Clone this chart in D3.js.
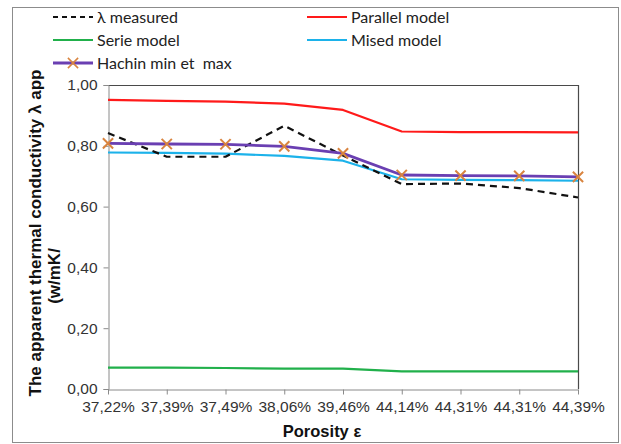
<!DOCTYPE html>
<html>
<head>
<meta charset="utf-8">
<script src="https://cdn.jsdelivr.net/npm/d3@7"></script>
<style>
  html, body { margin: 0; padding: 0; background: #fff; }
  svg { display: block; }
</style>
</head>
<body>
<svg id="chart" width="621" height="444"></svg>
<script>
// Porosity categories (x axis)
const porosity = ["37,22%", "37,39%", "37,49%", "38,06%", "39,46%", "44,14%", "44,31%", "44,31%", "44,39%"];

// Apparent thermal conductivity (W/mK) per series
const measured = [0.842, 0.764, 0.764, 0.866, 0.768, 0.674, 0.676, 0.661, 0.630];
const parallelModel = [0.951, 0.948, 0.945, 0.939, 0.918, 0.847, 0.845, 0.845, 0.844];
const serieModel = [0.070, 0.070, 0.069, 0.067, 0.067, 0.058, 0.058, 0.058, 0.058];
const misedModel = [0.778, 0.777, 0.774, 0.767, 0.751, 0.690, 0.688, 0.687, 0.685];
const hachin = [0.808, 0.806, 0.805, 0.798, 0.775, 0.704, 0.702, 0.701, 0.698];

const yTicks = [0, 0.2, 0.4, 0.6, 0.8, 1.0];

const svg = d3.select("#chart");

// outer frame
svg.append("rect")
  .attr("x", 12.5).attr("y", 7.5)
  .attr("width", 606).attr("height", 435)
  .attr("fill", "none").attr("stroke", "#8c8c8c").attr("stroke-width", 1);

const plot = { left: 108, right: 578, top: 85, bottom: 389 };

const x = d3.scalePoint()
  .domain(d3.range(porosity.length))
  .range([plot.left, plot.right]);

const y = d3.scaleLinear()
  .domain([0, 1])
  .range([plot.bottom, plot.top]);

// plot-area border (top and right)
svg.append("path")
  .attr("d", `M${plot.left},${plot.top + 0.5}H${plot.right + 0.5}V${plot.bottom}`)
  .attr("fill", "none").attr("stroke", "#4a4a4a").attr("stroke-width", 1.2);

const axisFont = "'Liberation Sans', Arial, sans-serif";
const fmt = d => d3.format(".2f")(d).replace(".", ",");

// y axis
const yAxis = svg.append("g")
  .attr("transform", `translate(${plot.left + 0.5},0)`)
  .call(d3.axisLeft(y).tickValues(yTicks).tickFormat(fmt).tickSize(5).tickPadding(6));
yAxis.attr("font-family", axisFont).attr("font-size", 15.5);
yAxis.select(".domain").attr("stroke", "#8a8a8a");
yAxis.selectAll(".tick line").attr("stroke", "#8a8a8a");
yAxis.selectAll(".tick text").attr("fill", "#333");

// x axis
const xAxis = svg.append("g")
  .attr("transform", `translate(0,${plot.bottom + 0.5})`)
  .call(d3.axisBottom(x).tickFormat(i => porosity[i]).tickSize(5).tickPadding(6).tickSizeOuter(0));
xAxis.attr("font-family", axisFont).attr("font-size", 15.5);
xAxis.select(".domain").attr("stroke", "#8a8a8a");
xAxis.selectAll(".tick line").attr("stroke", "#8a8a8a");
xAxis.selectAll(".tick text").attr("fill", "#333");

// series lines
const line = d3.line().x((d, i) => x(i)).y(d => y(d));

const series = [
  { name: "Serie model", data: serieModel, color: "#21b04b", width: 2.2 },
  { name: "Parallel model", data: parallelModel, color: "#ff1a1a", width: 2.2 },
  { name: "Mised model", data: misedModel, color: "#1cb2ea", width: 2.2 },
  { name: "λ measured", data: measured, color: "#111", width: 2.2, dash: "7,5" },
  { name: "Hachin min et  max", data: hachin, color: "#6a3fb2", width: 2.8 }
];

series.forEach(s => {
  svg.append("path")
    .datum(s.data)
    .attr("d", line)
    .attr("fill", "none")
    .attr("stroke", s.color)
    .attr("stroke-width", s.width)
    .attr("stroke-dasharray", s.dash || null)
    .attr("stroke-linejoin", "round");
});

// Hachin markers (x shapes)
const markerColor = "#d9843f";
const cross = d3.symbol().type(d3.symbolX).size(70);
svg.append("g").selectAll("path")
  .data(hachin)
  .join("path")
  .attr("d", cross)
  .attr("transform", (d, i) => `translate(${x(i)},${y(d)})`)
  .attr("fill", "none")
  .attr("stroke", markerColor)
  .attr("stroke-width", 2);

// axis titles
const titleFont = "'Liberation Sans', Arial, sans-serif";
svg.append("text")
  .attr("transform", "translate(41,233) rotate(-90)")
  .attr("text-anchor", "middle")
  .attr("font-family", titleFont).attr("font-weight", "bold").attr("font-size", 17)
  .attr("fill", "#111")
  .text("The apparent thermal conductivity λ app");
svg.append("text")
  .attr("transform", "translate(60,276) rotate(-90)")
  .attr("text-anchor", "middle")
  .attr("font-family", titleFont).attr("font-weight", "bold").attr("font-size", 17)
  .attr("fill", "#111")
  .text("(w/mK/");
svg.append("text")
  .attr("x", 322).attr("y", 437)
  .attr("text-anchor", "middle")
  .attr("font-family", titleFont).attr("font-weight", "bold").attr("font-size", 16.5)
  .attr("fill", "#111")
  .text("Porosity ε");

// legend
const legendItems = [
  { s: series[3], col: 0, row: 0 },
  { s: series[1], col: 1, row: 0 },
  { s: series[0], col: 0, row: 1 },
  { s: series[2], col: 1, row: 1 },
  { s: series[4], col: 0, row: 2, marker: true }
];
const colX = [53, 307];
const rowY = [17, 40, 63];
const legend = svg.append("g");
legendItems.forEach(it => {
  const g = legend.append("g").attr("transform", `translate(${colX[it.col]},${rowY[it.row]})`);
  g.append("line")
    .attr("x1", 0).attr("x2", 40).attr("y1", 0).attr("y2", 0)
    .attr("stroke", it.s.color).attr("stroke-width", it.s.width)
    .attr("stroke-dasharray", it.s.dash ? "5,4" : null);
  if (it.marker) {
    g.append("path").attr("d", cross).attr("transform", "translate(20,0)")
      .attr("fill", "none").attr("stroke", markerColor).attr("stroke-width", 1.5);
  }
  g.append("text")
    .attr("x", 44).attr("y", 0).attr("dy", "0.35em")
    .attr("font-family", "Lato, sans-serif").attr("font-size", 16)
    .attr("fill", "#222")
    .style("white-space", "pre")
    .text(it.s.name);
});
</script>
</body>
</html>
